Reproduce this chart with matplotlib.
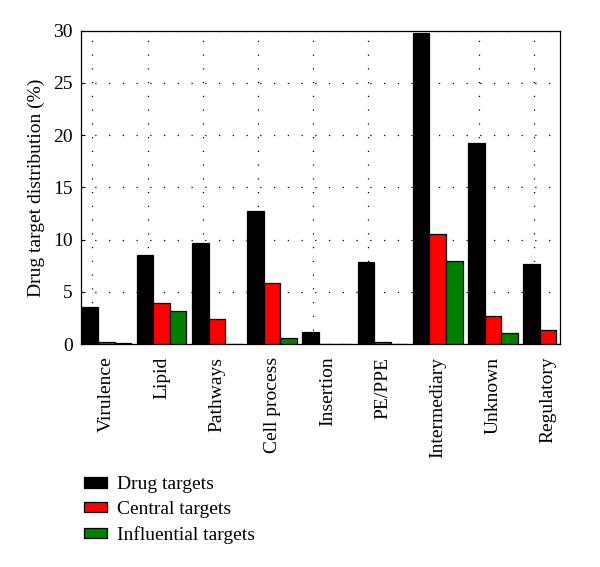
import matplotlib.pyplot as plt
import numpy as np

categories = ["Virulence", "Lipid", "Pathways", "Cell process", "Insertion",
              "PE/PPE", "Intermediary", "Unknown", "Regulatory"]
drug_targets = [3.56, 8.53, 9.68, 12.73, 1.15, 7.86, 29.74, 19.2, 7.7]
central_targets = [0.22, 3.95, 2.39, 5.86, 0.0, 0.22, 10.54, 2.74, 1.34]
influential_targets = [0.12, 3.18, 0.05, 0.57, 0.0, 0.0, 7.96, 1.11, 0.0]
series_names = ["Drug targets", "Central targets", "Influential targets"]
colors = ["#000000", "#ff0000", "#008000"]

plt.rcParams["font.family"] = ["Liberation Serif", "DejaVu Serif"]

fig = plt.figure(figsize=(6.0, 5.67), dpi=100)
ax = fig.add_axes([0.135, 0.393, 0.798, 0.553])

grid_pos = np.arange(1, len(categories) + 1)
centers = grid_pos + 0.255
width = 0.3
for k, (vals, name, col) in enumerate(zip([drug_targets, central_targets, influential_targets],
                                          series_names, colors)):
    ax.bar(centers + (k - 1) * width, vals, width, color=col, edgecolor="black",
           linewidth=0.9, label=name, zorder=3)

ax.set_xlim(0.795, 9.465)
ax.set_ylim(0, 30)
ax.set_yticks(range(0, 31, 5))
ax.set_xticks(centers)
ax.set_xticklabels(categories, rotation=90, fontsize=14)
ax.set_xticks(grid_pos, minor=True)
ax.tick_params(axis="x", which="both", length=0, pad=9)
ax.tick_params(axis="y", direction="in", length=3, labelsize=14, pad=6)
ax.grid(True, which="minor", axis="x", color="black", linestyle=(0, (1, 10)), linewidth=0.9)
ax.grid(True, which="major", axis="y", color="black", linestyle=(0, (1, 10)), linewidth=0.9)
ax.set_axisbelow(True)
for s in ax.spines.values():
    s.set_linewidth(0.9)
ax.set_ylabel("Drug target distribution (%)", fontsize=14, labelpad=6)

fig.legend(loc="lower left", bbox_to_anchor=(0.11, 0.01), frameon=False, fontsize=14,
           handlelength=1.2, handleheight=0.45, labelspacing=0.4, handletextpad=0.5)

fig.savefig("out.png", dpi=100)
